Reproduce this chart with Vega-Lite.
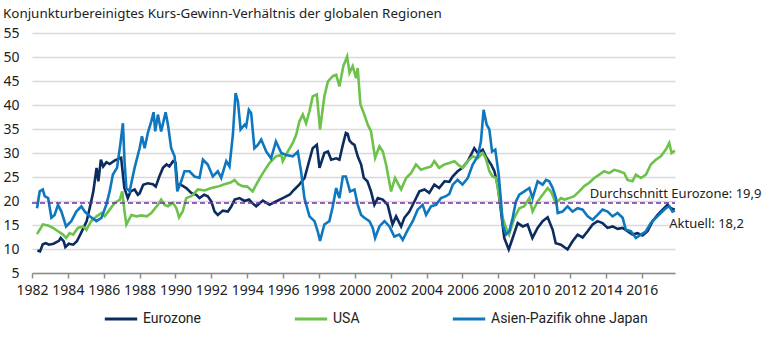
{
  "$schema": "https://vega.github.io/schema/vega-lite/v6.json",
  "width": 643,
  "height": 240,
  "autosize": {"type": "none"},
  "padding": {"left": 32, "top": 33, "right": 95, "bottom": 85},
  "background": "white",
  "config": {"view": {"stroke": null}, "font": "Noto Sans"},
  "title": {"text": "Konjunkturbereinigtes Kurs-Gewinn-Verhältnis der globalen Regionen", "anchor": "start", "frame": "group", "dx": -29, "offset": 6, "fontSize": 13.4, "fontWeight": "normal", "font": "Noto Sans", "color": "#222222"},
  "datasets": {
    "eur": [
      {"year":1982.3,"value":9.7},{"year":1982.45,"value":9.5},{"year":1982.6,"value":11.0},{"year":1982.77,"value":11.2},{"year":1982.95,"value":10.9},{"year":1983.2,"value":11.1},{"year":1983.5,"value":11.7},{"year":1983.6,"value":12.3},{"year":1983.77,"value":11.6},{"year":1983.86,"value":10.4},{"year":1984.05,"value":11.1},{"year":1984.3,"value":10.9},{"year":1984.5,"value":11.6},{"year":1984.69,"value":13.0},{"year":1984.87,"value":14.4},{"year":1985.05,"value":15.8},{"year":1985.24,"value":18.9},{"year":1985.42,"value":22.0},{"year":1985.6,"value":26.9},{"year":1985.7,"value":24.1},{"year":1985.84,"value":28.6},{"year":1985.97,"value":27.2},{"year":1986.15,"value":28.1},{"year":1986.33,"value":27.7},{"year":1986.6,"value":28.4},{"year":1986.88,"value":28.9},{"year":1986.97,"value":29.0},{"year":1987.15,"value":22.7},{"year":1987.34,"value":20.6},{"year":1987.5,"value":22.0},{"year":1987.72,"value":22.4},{"year":1987.9,"value":21.3},{"year":1988.0,"value":21.6},{"year":1988.2,"value":23.4},{"year":1988.45,"value":23.7},{"year":1988.74,"value":23.5},{"year":1988.9,"value":23.0},{"year":1989.1,"value":25.1},{"year":1989.3,"value":26.9},{"year":1989.5,"value":27.6},{"year":1989.66,"value":27.2},{"year":1989.86,"value":28.3},{"year":1990.0,"value":28.0},{"year":1990.1,"value":23.4},{"year":1990.3,"value":23.4},{"year":1990.6,"value":22.7},{"year":1990.88,"value":21.7},{"year":1991.16,"value":21.3},{"year":1991.34,"value":20.6},{"year":1991.6,"value":21.3},{"year":1991.8,"value":21.0},{"year":1992.0,"value":19.9},{"year":1992.18,"value":17.8},{"year":1992.36,"value":17.1},{"year":1992.64,"value":18.0},{"year":1992.92,"value":17.8},{"year":1993.1,"value":18.8},{"year":1993.3,"value":20.3},{"year":1993.57,"value":20.6},{"year":1993.85,"value":20.0},{"year":1994.1,"value":20.3},{"year":1994.3,"value":19.5},{"year":1994.5,"value":18.9},{"year":1994.87,"value":20.1},{"year":1995.24,"value":19.2},{"year":1995.6,"value":19.9},{"year":1995.98,"value":20.6},{"year":1996.36,"value":21.3},{"year":1996.63,"value":22.4},{"year":1996.9,"value":23.4},{"year":1997.2,"value":24.8},{"year":1997.4,"value":27.6},{"year":1997.65,"value":31.0},{"year":1997.88,"value":31.7},{"year":1998.03,"value":26.9},{"year":1998.3,"value":30.0},{"year":1998.5,"value":30.3},{"year":1998.68,"value":28.6},{"year":1998.96,"value":28.9},{"year":1999.14,"value":28.6},{"year":1999.33,"value":31.7},{"year":1999.5,"value":34.2},{"year":1999.6,"value":34.0},{"year":1999.7,"value":32.6},{"year":1999.85,"value":32.0},{"year":1999.98,"value":31.7},{"year":2000.16,"value":29.3},{"year":2000.35,"value":27.6},{"year":2000.5,"value":24.8},{"year":2000.7,"value":24.1},{"year":2000.9,"value":22.0},{"year":2001.09,"value":19.2},{"year":2001.28,"value":20.6},{"year":2001.56,"value":20.3},{"year":2001.83,"value":19.2},{"year":2002.1,"value":15.1},{"year":2002.3,"value":16.8},{"year":2002.58,"value":14.7},{"year":2002.76,"value":16.5},{"year":2003.04,"value":17.8},{"year":2003.32,"value":19.9},{"year":2003.6,"value":22.0},{"year":2003.88,"value":22.4},{"year":2004.15,"value":21.7},{"year":2004.43,"value":23.4},{"year":2004.7,"value":22.7},{"year":2005.0,"value":24.1},{"year":2005.27,"value":24.0},{"year":2005.45,"value":25.1},{"year":2005.73,"value":26.2},{"year":2006.0,"value":26.9},{"year":2006.3,"value":28.3},{"year":2006.66,"value":31.0},{"year":2006.85,"value":30.0},{"year":2007.13,"value":30.7},{"year":2007.3,"value":29.3},{"year":2007.6,"value":27.6},{"year":2007.78,"value":26.2},{"year":2007.96,"value":23.4},{"year":2008.15,"value":17.8},{"year":2008.33,"value":12.3},{"year":2008.58,"value":9.9},{"year":2008.8,"value":12.3},{"year":2009.08,"value":15.4},{"year":2009.36,"value":14.7},{"year":2009.63,"value":15.1},{"year":2009.9,"value":12.3},{"year":2010.19,"value":14.4},{"year":2010.47,"value":15.8},{"year":2010.75,"value":16.6},{"year":2011.03,"value":14.0},{"year":2011.2,"value":11.2},{"year":2011.49,"value":10.9},{"year":2011.86,"value":9.9},{"year":2012.14,"value":11.6},{"year":2012.42,"value":13.0},{"year":2012.7,"value":12.4},{"year":2012.98,"value":13.7},{"year":2013.26,"value":15.1},{"year":2013.53,"value":15.8},{"year":2013.81,"value":15.4},{"year":2014.09,"value":14.4},{"year":2014.37,"value":14.7},{"year":2014.65,"value":14.2},{"year":2014.93,"value":14.4},{"year":2015.2,"value":13.7},{"year":2015.48,"value":13.0},{"year":2015.76,"value":13.3},{"year":2016.04,"value":12.8},{"year":2016.32,"value":13.7},{"year":2016.6,"value":15.8},{"year":2016.88,"value":17.1},{"year":2017.16,"value":18.2},{"year":2017.43,"value":19.2},{"year":2017.62,"value":18.5},{"year":2017.84,"value":18.2}
    ],
    "usa": [
      {"year":1982.28,"value":13.1},{"year":1982.43,"value":14.0},{"year":1982.6,"value":15.1},{"year":1982.9,"value":14.9},{"year":1983.17,"value":14.4},{"year":1983.45,"value":13.7},{"year":1983.73,"value":13.0},{"year":1983.9,"value":12.3},{"year":1984.1,"value":13.3},{"year":1984.29,"value":13.0},{"year":1984.56,"value":14.4},{"year":1984.84,"value":14.7},{"year":1985.03,"value":14.0},{"year":1985.3,"value":15.8},{"year":1985.6,"value":16.8},{"year":1985.87,"value":17.5},{"year":1986.05,"value":16.8},{"year":1986.33,"value":18.2},{"year":1986.61,"value":19.6},{"year":1986.9,"value":20.3},{"year":1987.03,"value":22.0},{"year":1987.16,"value":17.8},{"year":1987.26,"value":15.1},{"year":1987.54,"value":17.1},{"year":1987.82,"value":16.8},{"year":1988.1,"value":17.0},{"year":1988.4,"value":16.8},{"year":1988.65,"value":17.5},{"year":1989.02,"value":19.2},{"year":1989.2,"value":20.3},{"year":1989.4,"value":19.2},{"year":1989.58,"value":18.9},{"year":1989.86,"value":19.6},{"year":1990.05,"value":18.5},{"year":1990.2,"value":16.6},{"year":1990.4,"value":17.8},{"year":1990.6,"value":20.6},{"year":1990.88,"value":21.0},{"year":1991.25,"value":22.4},{"year":1991.62,"value":22.2},{"year":1992.0,"value":22.7},{"year":1992.36,"value":23.0},{"year":1992.73,"value":23.5},{"year":1993.1,"value":23.9},{"year":1993.29,"value":24.4},{"year":1993.5,"value":23.5},{"year":1993.75,"value":23.1},{"year":1994.0,"value":23.0},{"year":1994.3,"value":22.0},{"year":1994.6,"value":24.1},{"year":1994.87,"value":25.8},{"year":1995.24,"value":27.9},{"year":1995.6,"value":29.3},{"year":1995.9,"value":29.6},{"year":1995.98,"value":28.3},{"year":1996.26,"value":30.3},{"year":1996.54,"value":32.1},{"year":1996.73,"value":33.8},{"year":1996.91,"value":36.6},{"year":1997.1,"value":38.0},{"year":1997.28,"value":36.2},{"year":1997.47,"value":38.7},{"year":1997.65,"value":41.8},{"year":1997.88,"value":42.2},{"year":1998.06,"value":34.9},{"year":1998.3,"value":41.8},{"year":1998.5,"value":44.9},{"year":1998.77,"value":46.0},{"year":1998.96,"value":46.3},{"year":1999.14,"value":43.9},{"year":1999.36,"value":48.1},{"year":1999.57,"value":50.1},{"year":1999.7,"value":46.7},{"year":1999.88,"value":48.1},{"year":2000.07,"value":45.6},{"year":2000.16,"value":47.7},{"year":2000.31,"value":40.1},{"year":2000.53,"value":38.0},{"year":2000.72,"value":35.9},{"year":2000.9,"value":34.5},{"year":2001.13,"value":29.0},{"year":2001.37,"value":31.4},{"year":2001.56,"value":30.3},{"year":2001.74,"value":27.6},{"year":2002.02,"value":22.0},{"year":2002.24,"value":24.8},{"year":2002.58,"value":22.4},{"year":2002.86,"value":24.8},{"year":2003.13,"value":25.8},{"year":2003.41,"value":27.6},{"year":2003.69,"value":26.5},{"year":2003.97,"value":26.9},{"year":2004.25,"value":27.2},{"year":2004.43,"value":28.3},{"year":2004.7,"value":26.9},{"year":2004.99,"value":27.6},{"year":2005.27,"value":27.9},{"year":2005.55,"value":28.3},{"year":2005.75,"value":27.6},{"year":2006.0,"value":26.9},{"year":2006.3,"value":28.3},{"year":2006.57,"value":29.3},{"year":2006.85,"value":28.9},{"year":2007.13,"value":30.0},{"year":2007.3,"value":28.9},{"year":2007.5,"value":26.2},{"year":2007.68,"value":25.1},{"year":2007.87,"value":24.8},{"year":2008.06,"value":20.6},{"year":2008.24,"value":16.5},{"year":2008.43,"value":14.4},{"year":2008.6,"value":13.0},{"year":2008.89,"value":16.5},{"year":2009.17,"value":18.5},{"year":2009.45,"value":18.9},{"year":2009.73,"value":20.6},{"year":2009.91,"value":17.8},{"year":2010.19,"value":19.9},{"year":2010.47,"value":21.3},{"year":2010.75,"value":22.7},{"year":2010.93,"value":22.0},{"year":2011.21,"value":19.6},{"year":2011.49,"value":20.6},{"year":2011.68,"value":20.3},{"year":2011.96,"value":20.6},{"year":2012.23,"value":21.0},{"year":2012.51,"value":22.0},{"year":2012.79,"value":23.1},{"year":2013.07,"value":23.8},{"year":2013.35,"value":24.8},{"year":2013.63,"value":25.5},{"year":2013.9,"value":26.2},{"year":2014.18,"value":25.8},{"year":2014.46,"value":26.5},{"year":2014.74,"value":26.2},{"year":2015.02,"value":25.8},{"year":2015.2,"value":24.4},{"year":2015.48,"value":24.1},{"year":2015.67,"value":25.5},{"year":2015.95,"value":24.8},{"year":2016.23,"value":25.5},{"year":2016.5,"value":27.6},{"year":2016.78,"value":28.6},{"year":2017.06,"value":29.3},{"year":2017.34,"value":30.7},{"year":2017.53,"value":32.1},{"year":2017.66,"value":30.0},{"year":2017.84,"value":30.5}
    ],
    "asia": [
      {"year":1982.28,"value":18.5},{"year":1982.43,"value":22.0},{"year":1982.6,"value":22.4},{"year":1982.71,"value":21.0},{"year":1982.9,"value":20.6},{"year":1983.08,"value":16.5},{"year":1983.26,"value":17.1},{"year":1983.45,"value":19.2},{"year":1983.64,"value":17.8},{"year":1983.9,"value":14.7},{"year":1984.19,"value":15.8},{"year":1984.47,"value":17.8},{"year":1984.75,"value":18.9},{"year":1984.94,"value":17.8},{"year":1985.22,"value":16.8},{"year":1985.59,"value":15.8},{"year":1985.87,"value":16.5},{"year":1986.14,"value":19.2},{"year":1986.33,"value":22.0},{"year":1986.51,"value":25.5},{"year":1986.74,"value":26.9},{"year":1986.92,"value":31.7},{"year":1987.07,"value":36.2},{"year":1987.16,"value":28.3},{"year":1987.26,"value":22.7},{"year":1987.44,"value":22.0},{"year":1987.72,"value":26.9},{"year":1988.0,"value":31.0},{"year":1988.13,"value":33.5},{"year":1988.28,"value":31.0},{"year":1988.46,"value":34.2},{"year":1988.65,"value":36.6},{"year":1988.78,"value":38.5},{"year":1988.87,"value":34.5},{"year":1989.02,"value":38.0},{"year":1989.2,"value":34.5},{"year":1989.45,"value":38.5},{"year":1989.58,"value":35.9},{"year":1989.76,"value":31.0},{"year":1989.95,"value":29.3},{"year":1990.1,"value":22.0},{"year":1990.32,"value":24.1},{"year":1990.5,"value":26.2},{"year":1990.78,"value":26.2},{"year":1991.06,"value":25.1},{"year":1991.34,"value":24.8},{"year":1991.53,"value":28.6},{"year":1991.8,"value":27.6},{"year":1992.08,"value":25.1},{"year":1992.36,"value":26.2},{"year":1992.55,"value":24.8},{"year":1992.83,"value":28.3},{"year":1993.01,"value":27.2},{"year":1993.2,"value":33.8},{"year":1993.35,"value":42.5},{"year":1993.48,"value":40.8},{"year":1993.63,"value":34.9},{"year":1993.85,"value":35.9},{"year":1993.94,"value":35.5},{"year":1994.09,"value":39.0},{"year":1994.22,"value":38.3},{"year":1994.4,"value":31.0},{"year":1994.59,"value":31.7},{"year":1994.78,"value":32.8},{"year":1995.06,"value":30.3},{"year":1995.33,"value":28.9},{"year":1995.6,"value":32.4},{"year":1995.9,"value":30.0},{"year":1996.17,"value":29.6},{"year":1996.54,"value":29.3},{"year":1996.82,"value":30.3},{"year":1997.0,"value":26.2},{"year":1997.19,"value":20.6},{"year":1997.47,"value":16.8},{"year":1997.75,"value":15.8},{"year":1997.93,"value":13.7},{"year":1998.06,"value":11.7},{"year":1998.3,"value":15.1},{"year":1998.58,"value":15.8},{"year":1998.77,"value":18.9},{"year":1998.96,"value":22.7},{"year":1999.14,"value":20.6},{"year":1999.33,"value":25.1},{"year":1999.5,"value":25.1},{"year":1999.73,"value":22.0},{"year":1999.98,"value":22.4},{"year":2000.16,"value":19.2},{"year":2000.35,"value":17.1},{"year":2000.53,"value":16.5},{"year":2000.81,"value":15.8},{"year":2001.0,"value":14.4},{"year":2001.13,"value":12.3},{"year":2001.37,"value":14.7},{"year":2001.65,"value":15.8},{"year":2001.93,"value":14.7},{"year":2002.2,"value":12.6},{"year":2002.48,"value":13.0},{"year":2002.67,"value":11.9},{"year":2002.95,"value":14.0},{"year":2003.23,"value":15.8},{"year":2003.5,"value":18.2},{"year":2003.78,"value":19.2},{"year":2003.97,"value":17.1},{"year":2004.25,"value":18.9},{"year":2004.53,"value":19.2},{"year":2004.8,"value":20.6},{"year":2005.08,"value":21.0},{"year":2005.27,"value":21.5},{"year":2005.46,"value":23.4},{"year":2005.73,"value":24.4},{"year":2006.0,"value":23.4},{"year":2006.3,"value":24.8},{"year":2006.57,"value":27.6},{"year":2006.85,"value":29.3},{"year":2007.03,"value":32.4},{"year":2007.18,"value":39.0},{"year":2007.35,"value":35.9},{"year":2007.5,"value":34.9},{"year":2007.65,"value":30.3},{"year":2007.83,"value":30.7},{"year":2008.02,"value":25.5},{"year":2008.15,"value":19.9},{"year":2008.24,"value":15.1},{"year":2008.43,"value":13.0},{"year":2008.61,"value":13.7},{"year":2008.8,"value":16.5},{"year":2008.98,"value":19.9},{"year":2009.17,"value":21.3},{"year":2009.45,"value":22.0},{"year":2009.73,"value":22.7},{"year":2009.91,"value":20.6},{"year":2010.19,"value":24.1},{"year":2010.47,"value":23.4},{"year":2010.66,"value":24.4},{"year":2010.84,"value":24.1},{"year":2011.03,"value":22.7},{"year":2011.21,"value":20.6},{"year":2011.31,"value":17.5},{"year":2011.58,"value":17.8},{"year":2011.86,"value":18.9},{"year":2012.14,"value":17.8},{"year":2012.42,"value":18.5},{"year":2012.7,"value":18.2},{"year":2012.98,"value":16.8},{"year":2013.26,"value":16.1},{"year":2013.53,"value":17.1},{"year":2013.81,"value":18.2},{"year":2014.09,"value":17.8},{"year":2014.37,"value":16.8},{"year":2014.65,"value":17.5},{"year":2014.93,"value":16.5},{"year":2015.11,"value":14.0},{"year":2015.39,"value":13.7},{"year":2015.67,"value":12.3},{"year":2015.95,"value":13.0},{"year":2016.23,"value":13.7},{"year":2016.5,"value":15.4},{"year":2016.78,"value":16.5},{"year":2017.06,"value":17.5},{"year":2017.34,"value":18.5},{"year":2017.53,"value":18.9},{"year":2017.71,"value":17.8},{"year":2017.84,"value":18.0}
    ],
    "avg": [{"value": 19.6}],
    "notes": [
      {"label": "Durchschnitt Eurozone: 19,9", "year": 2013.1, "value": 20.7},
      {"label": "Aktuell: 18,2", "year": 2017.53, "value": 14.4}
    ]
  },
  "encoding": {
    "x": {"field": "year", "type": "quantitative", "scale": {"domain": [1982, 2017.85], "nice": false, "zero": false},
      "axis": {"values": [1982,1984,1986,1988,1990,1992,1994,1996,1998,2000,2002,2004,2006,2008,2010,2012,2014,2016], "format": "d", "grid": false, "title": null, "domainColor": "#8c8c8c", "domainWidth": 1.5, "tickColor": "#8c8c8c", "tickWidth": 1.5, "tickSize": 5, "labelFontSize": 14, "labelColor": "#222222", "labelPadding": 5, "labelFlush": false, "labelOverlap": false, "labelFont": "Noto Sans"}},
    "y": {"field": "value", "type": "quantitative", "scale": {"domain": [5, 55], "nice": false, "zero": false},
      "axis": {"values": [5,10,15,20,25,30,35,40,45,50,55], "title": null, "domain": false, "ticks": false, "grid": true, "gridColor": "#d9d9d9", "gridWidth": 1.6, "labelFontSize": 14, "labelColor": "#222222", "labelPadding": 13, "labelFont": "Noto Sans"}}
  },
  "layer": [
    {"data": {"name": "eur"}, "transform": [{"calculate": "'Eurozone'", "as": "region"}],
      "mark": {"type": "line", "strokeWidth": 2.6},
      "encoding": {"color": {"field": "region", "type": "nominal", "scale": {"domain": ["Eurozone", "USA", "Asien-Pazifik ohne Japan"], "range": ["#0c2c5f", "#6cc24a", "#0f77bd"]},
        "legend": {"orient": "none", "direction": "horizontal", "legendX": 71, "legendY": 268, "title": null, "symbolType": "stroke", "symbolSize": 1050, "symbolStrokeWidth": 3, "labelFont": "Roboto", "labelFontSize": 14, "labelColor": "#222222", "labelOffset": 4, "labelLimit": 0, "columnPadding": 86}}}},
    {"data": {"name": "usa"}, "transform": [{"calculate": "'USA'", "as": "region"}],
      "mark": {"type": "line", "strokeWidth": 2.6},
      "encoding": {"color": {"field": "region", "type": "nominal"}}},
    {"data": {"name": "asia"}, "transform": [{"calculate": "'Asien-Pazifik ohne Japan'", "as": "region"}],
      "mark": {"type": "line", "strokeWidth": 2.6},
      "encoding": {"color": {"field": "region", "type": "nominal"}}},
    {"data": {"name": "avg"}, "mark": {"type": "rule", "color": "#7030a0", "strokeWidth": 1.5, "strokeDash": [5, 3]},
      "encoding": {"x": {"value": 0}, "x2": {"value": 643}, "y": {"field": "value", "type": "quantitative"}}},
    {"data": {"name": "notes"}, "mark": {"type": "text", "align": "left", "baseline": "alphabetic", "fontSize": 13, "font": "Noto Sans", "color": "#222222"},
      "encoding": {"text": {"field": "label"}}}
  ]
}
